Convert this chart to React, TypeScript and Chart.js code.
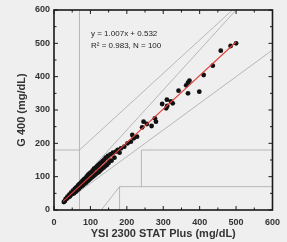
import React, { useEffect, useRef } from "react";
import { Chart, registerables } from "chart.js";

Chart.register(...registerables);

// Reference (YSI) values
const xValues = [
  27, 30, 32, 35, 37, 40, 42, 44, 47, 50,
  52, 55, 57, 60, 62, 64, 66, 68, 70, 72,
  74, 76, 78, 80, 82, 84, 86, 88, 90, 92,
  94, 96, 98, 100, 102, 104, 106, 108, 110, 112,
  114, 116, 118, 120, 122, 124, 126, 128, 130, 132,
  134, 136, 138, 140, 142, 145, 148, 150, 155, 158,
  162, 166, 170, 175, 180, 184, 193, 202, 211, 215,
  219, 228, 242, 246, 255, 268, 277, 280, 297, 308,
  311, 310, 321, 326, 342, 363, 368, 372, 368, 399,
  411, 436, 458, 485, 500, 60, 85, 105, 125, 152,
];
// Meter (G 400) values
const yValues = [
  24, 27, 33, 34, 40, 38, 46, 41, 52, 48,
  58, 50, 63, 55, 68, 59, 74, 63, 78, 68,
  82, 71, 87, 75, 92, 79, 95, 82, 101, 86,
  106, 90, 110, 94, 113, 98, 118, 101, 124, 105,
  126, 109, 131, 112, 135, 115, 139, 119, 143, 124,
  147, 127, 151, 131, 157, 135, 162, 141, 167, 148,
  172, 157, 175, 180, 172, 185, 190, 200, 205, 225,
  215, 220, 248, 265, 258, 252, 275, 265, 318, 305,
  312, 331, 326, 320, 358, 374, 382, 388, 350, 355,
  405, 433, 478, 492, 500, 66, 92, 114, 120, 148,
];

const fitSlope = 1.007;
const fitIntercept = 0.532;
const fitRange = [25, 500];

const axisMin = 0;
const axisMax = 600;
const majorStep = 100;
const minorStep = 50;

// Error-grid zone boundaries: [x1, y1, x2, y2]
const zoneSegments = [
  [0, 180, 70, 180],
  [70, 0, 70, 600],
  [70, 180, 490, 600],
  [58.33, 70, 500, 600],
  [70, 56, 600, 480],
  [130, 0, 180, 70],
  [180, 0, 180, 70],
  [180, 70, 600, 70],
  [240, 70, 240, 180],
  [240, 180, 600, 180],
];

const xTitle = "YSI 2300 STAT Plus (mg/dL)";
const yTitle = "G 400 (mg/dL)";
const equationText = "y = 1.007x + 0.532";
const statsText = "R\u00B2 = 0.983, N = 100";

const framePlugin = {
  id: "frameTicks",
  afterDatasetsDraw(chart: any) {
    const { ctx, chartArea, scales } = chart;
    const { left, right, top, bottom } = chartArea;
    const xs = scales.x;
    const ys = scales.y;
    ctx.save();
    ctx.strokeStyle = "#1a1a1a";
    ctx.lineWidth = 1;
    for (let v = axisMin; v <= axisMax; v += minorStep) {
      const len = v % majorStep === 0 ? 4 : 2.5;
      const px = xs.getPixelForValue(v);
      const py = ys.getPixelForValue(v);
      ctx.beginPath();
      ctx.moveTo(px, bottom);
      ctx.lineTo(px, bottom - len);
      ctx.moveTo(px, top);
      ctx.lineTo(px, top + len);
      ctx.moveTo(left, py);
      ctx.lineTo(left + len, py);
      ctx.moveTo(right, py);
      ctx.lineTo(right - len, py);
      ctx.stroke();
    }
    ctx.lineWidth = 1.6;
    ctx.strokeRect(left, top, right - left, bottom - top);

    ctx.fillStyle = "#222";
    ctx.font = "8px 'Liberation Sans', Arial, sans-serif";
    ctx.textAlign = "left";
    ctx.textBaseline = "middle";
    ctx.fillText(equationText, 91, 34);
    ctx.fillText(statsText, 91, 46);
    ctx.restore();
  },
};

export default function App() {
  const canvasRef = useRef<HTMLCanvasElement | null>(null);

  useEffect(() => {
    const canvas = canvasRef.current;
    if (!canvas) return;

    const points = xValues.map((x, i) => ({ x, y: yValues[i] }));
    const fitPoints = fitRange.map((x) => ({ x, y: fitSlope * x + fitIntercept }));

    const zoneDatasets = zoneSegments.map((s) => ({
      type: "line" as const,
      data: [
        { x: s[0], y: s[1] },
        { x: s[2], y: s[3] },
      ],
      borderColor: "#a8a8a8",
      borderWidth: 0.8,
      pointRadius: 0,
      showLine: true,
      fill: false,
    }));

    const tickFont = { family: "'Liberation Sans', Arial, sans-serif", size: 9, weight: "bold" as const };
    const titleFont = { family: "'Liberation Sans', Arial, sans-serif", size: 11, weight: "bold" as const };

    const chart = new Chart(canvas, {
      type: "scatter",
      data: {
        datasets: [
          {
            type: "line",
            data: fitPoints,
            borderColor: "#e0403a",
            borderWidth: 1.1,
            pointRadius: 0,
            showLine: true,
            fill: false,
          } as any,
          {
            type: "scatter",
            data: points,
            backgroundColor: "#111111",
            borderWidth: 0,
            pointRadius: 2.4,
          } as any,
          ...(zoneDatasets as any[]),
        ],
      },
      options: {
        responsive: false,
        animation: false,
        events: [],
        layout: { padding: { left: 15, top: 10, right: 7, bottom: 1 } },
        plugins: {
          legend: { display: false },
          tooltip: { enabled: false },
        },
        scales: {
          x: {
            type: "linear",
            min: axisMin,
            max: axisMax,
            grid: { display: false, drawTicks: false },
            border: { display: false },
            ticks: { stepSize: majorStep, color: "#333", font: tickFont, padding: 7, maxRotation: 0 },
            title: { display: true, text: xTitle, color: "#333", font: titleFont, padding: 0 },
            afterFit: (scale: any) => {
              scale.height = 31;
            },
          },
          y: {
            type: "linear",
            min: axisMin,
            max: axisMax,
            grid: { display: false, drawTicks: false },
            border: { display: false },
            ticks: { stepSize: majorStep, color: "#333", font: tickFont, padding: 4 },
            title: { display: true, text: yTitle, color: "#333", font: titleFont, padding: 0 },
            afterFit: (scale: any) => {
              scale.width = 39;
            },
          },
        },
      },
      plugins: [framePlugin],
    });

    return () => chart.destroy();
  }, []);

  return (
    <div
      style={{
        position: "absolute",
        left: 0,
        top: 0,
        width: 287,
        height: 242,
        background: "#efefef",
      }}
    >
      <canvas ref={canvasRef} width={287} height={242} style={{ display: "block" }} />
    </div>
  );
}
